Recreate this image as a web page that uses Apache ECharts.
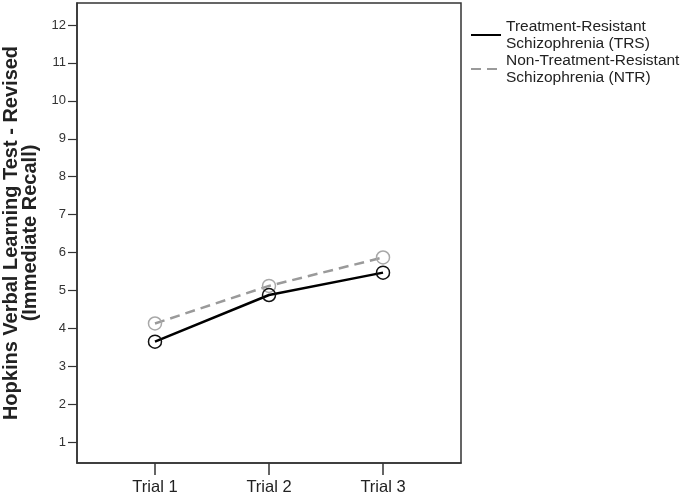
<!DOCTYPE html>
<html><head><meta charset="utf-8">
<script src="https://cdn.jsdelivr.net/npm/echarts@6/dist/echarts.min.js"></script>
<style>html,body{margin:0;padding:0;background:#fff}#c{width:689px;height:499px}</style>
</head><body><div id="c"></div>
<script>
const categories = ['Trial 1', 'Trial 2', 'Trial 3'];
const trsValues = [3.65, 4.88, 5.47];
const ntrValues = [4.13, 5.12, 5.87];
const yTicks = [1,2,3,4,5,6,7,8,9,10,11,12];
const seriesNames = ['Treatment-Resistant\nSchizophrenia (TRS)', 'Non-Treatment-Resistant\nSchizophrenia (NTR)'];
const yTitle = 'Hopkins Verbal Learning Test - Revised\n(Immediate Recall)';

const chart = echarts.init(document.getElementById('c'), null, {renderer: 'canvas'});
const toPts = vals => vals.map((v, i) => [i, v]);
chart.setOption({
  animation: false,
  backgroundColor: '#fff',
  textStyle: {fontFamily: 'Liberation Sans, Arial, sans-serif'},
  grid: {left: 77, right: 228, top: 3, bottom: 36, show: true, borderColor: '#333', borderWidth: 1.5, containLabel: false, outerBoundsMode: 'none'},
  legend: {
    orient: 'vertical', left: 470, top: 18, padding: 0,
    itemWidth: 30, itemHeight: 14, itemGap: 0,
    itemStyle: {opacity: 0},
    textStyle: {fontSize: 15.5, color: '#222', lineHeight: 17, fontFamily: 'Liberation Sans, Arial, sans-serif'},
    data: seriesNames
  },
  xAxis: {
    type: 'value', min: -0.684, max: 2.684,
    axisLine: {show: true, onZero: false, lineStyle: {color: '#333', width: 1.5}},
    axisTick: {show: true, length: 12, customValues: [0, 1, 2], lineStyle: {color: '#333', width: 1.5}},
    axisLabel: {customValues: [0, 1, 2], formatter: v => categories[Math.round(v)], fontSize: 16.5, color: '#222', margin: 16},
    splitLine: {show: false}
  },
  yAxis: {
    type: 'value', min: 0.45, max: 12.58,
    name: yTitle, nameLocation: 'middle', nameGap: 35,
    nameTextStyle: {fontSize: 20, fontWeight: 'bold', color: '#222', lineHeight: 19},
    axisLine: {show: true, onZero: false, lineStyle: {color: '#333', width: 1.5}},
    axisTick: {show: true, length: 9, customValues: yTicks, lineStyle: {color: '#333', width: 1.2}},
    axisLabel: {customValues: yTicks, fontSize: 13, color: '#333', margin: 11},
    splitLine: {show: false}
  },
  series: [
    {
      name: seriesNames[0], type: 'line', data: toPts(trsValues),
      symbol: 'circle', symbolSize: 13,
      lineStyle: {color: '#000', width: 2.5},
      itemStyle: {color: 'rgba(0,0,0,0)', borderColor: '#111', borderWidth: 1.5},
      z: 3
    },
    {
      name: seriesNames[1], type: 'line', data: toPts(ntrValues),
      symbol: 'circle', symbolSize: 13,
      lineStyle: {color: '#9a9a9a', width: 2.5, type: [10, 6]},
      itemStyle: {color: 'rgba(0,0,0,0)', borderColor: '#a8a8a8', borderWidth: 1.5},
      z: 2
    }
  ]
});
</script></body></html>
